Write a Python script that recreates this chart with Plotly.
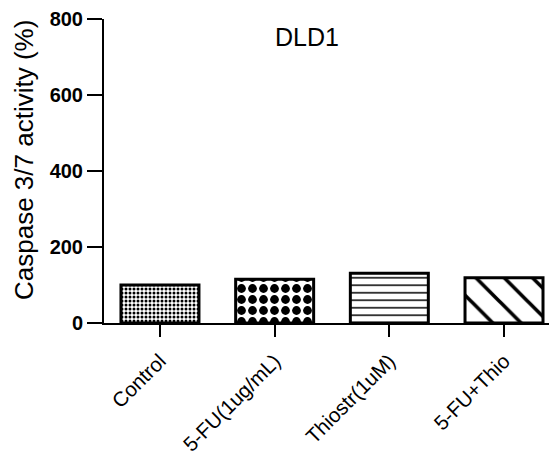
import plotly.graph_objects as go

categories = ["Control", "5-FU(1ug/mL)", "Thiostr(1uM)", "5-FU+Thio"]
values = [100, 115, 131, 119]
patterns = [".", ".", "-", "\\"]
pattern_sizes = [4, 11, 7.5, 20]
pattern_solidity = [0.45, 0.5, 0.2, 0.18]
y_ticks = [0, 200, 400, 600, 800]

FONT = "Arial, Liberation Sans, sans-serif"
OFF = 8  # default page body margin

fig = go.Figure()
fig.add_trace(go.Bar(
    x=list(range(len(categories))),
    y=values,
    width=0.68,
    marker=dict(
        color="white",
        line=dict(color="black", width=3),
        pattern=dict(shape=patterns, size=pattern_sizes, solidity=pattern_solidity,
                     fgcolor="black", bgcolor="white", fillmode="replace"),
    ),
    showlegend=False,
))

W, H = 557 - OFF, 464 - OFF
fig.update_layout(
    width=W, height=H,
    margin=dict(l=104 - OFF, r=0, t=19 - OFF, b=H - (19 - OFF) - 304, autoexpand=False),
    plot_bgcolor="white", paper_bgcolor="white",
    font=dict(family=FONT, color="black"),
    title=dict(text="DLD1", x=(307 - OFF) / W, xanchor="center", y=1 - (37 - OFF) / H, yanchor="middle",
               xref="container", yref="container", font=dict(size=25, family=FONT, color="black")),
    xaxis=dict(
        range=[-0.488, 3.462], tickmode="array", tickvals=list(range(len(categories))),
        ticktext=categories, tickangle=-45, tickfont=dict(size=20.5, family=FONT, color="black"),
        ticklabelstandoff=4,
        showline=True, linecolor="black", linewidth=2, ticks="outside", ticklen=12,
        tickwidth=2, tickcolor="black", showgrid=False, zeroline=False, automargin=False,
    ),
    yaxis=dict(
        range=[0, 800], tickvals=y_ticks, tickfont=dict(size=20, family=FONT, color="black", weight="bold"),
        showline=True, linecolor="black", linewidth=2, ticks="outside", ticklen=15,
        tickwidth=2, tickcolor="black", showgrid=False, zeroline=False, automargin=False,
    ),
    annotations=[dict(
        text="Caspase 3/7 activity (%)", textangle=-90, xref="paper", yref="paper",
        x=(24 - 104) / 453, y=(323 - 160) / 304, xanchor="center", yanchor="middle", showarrow=False,
        font=dict(size=26, family=FONT, color="black"),
    )],
)

fig.write_html("out.html")
